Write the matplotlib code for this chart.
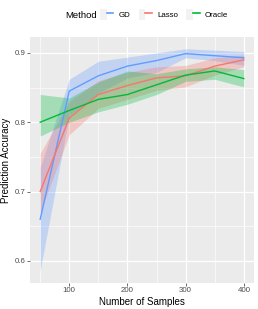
import matplotlib
matplotlib.use('Agg')
import matplotlib.pyplot as plt
from matplotlib.patches import Patch
from matplotlib.lines import Line2D
from matplotlib.legend_handler import HandlerTuple

plt.rcParams['font.family'] = ['Liberation Sans', 'DejaVu Sans']

# data
samples = [50, 100, 150, 200, 250, 300, 350, 400]

gd_mean = [0.660, 0.845, 0.867, 0.881, 0.889, 0.899, 0.896, 0.893]
gd_low = [0.586, 0.810, 0.842, 0.864, 0.872, 0.893, 0.889, 0.882]
gd_high = [0.735, 0.862, 0.888, 0.894, 0.900, 0.906, 0.904, 0.902]

lasso_mean = [0.700, 0.806, 0.840, 0.853, 0.864, 0.867, 0.881, 0.890]
lasso_low = [0.670, 0.782, 0.820, 0.833, 0.846, 0.851, 0.868, 0.880]
lasso_high = [0.755, 0.830, 0.860, 0.872, 0.880, 0.882, 0.893, 0.897]

oracle_mean = [0.800, 0.817, 0.833, 0.840, 0.854, 0.868, 0.874, 0.863]
oracle_low = [0.780, 0.800, 0.815, 0.826, 0.840, 0.859, 0.862, 0.851]
oracle_high = [0.840, 0.835, 0.858, 0.874, 0.870, 0.877, 0.880, 0.876]

methods = ['GD', 'Lasso', 'Oracle']
colors = ['#619CFF', '#F8766D', '#00BA38']
means = [gd_mean, lasso_mean, oracle_mean]
lows = [gd_low, lasso_low, oracle_low]
highs = [gd_high, lasso_high, oracle_high]

fig = plt.figure(figsize=(2.58, 3.09), dpi=100)
ax = fig.add_axes([30 / 258, 26 / 309, 224 / 258, 246 / 309])
ax.set_facecolor('#EBEBEB')

for c, lo, hi in zip(colors, lows, highs):
    ax.fill_between(samples, lo, hi, color=c, alpha=0.3, linewidth=0)
for c, mu in zip(colors, means):
    ax.plot(samples, mu, color=c, linewidth=1.0)

ax.set_xlim(32.5, 417.5)
ax.set_ylim(0.568, 0.923)
ax.set_xticks([100, 200, 300, 400])
ax.set_xticks([50, 150, 250, 350], minor=True)
ax.set_yticks([0.6, 0.7, 0.8, 0.9])
ax.set_yticks([0.65, 0.75, 0.85], minor=True)
ax.set_yticklabels(['0.6', '0.7', '0.8', '0.9'])
ax.grid(which='major', color='white', linewidth=0.9)
ax.grid(which='minor', color='white', linewidth=0.45)
ax.set_axisbelow(True)
for s in ax.spines.values():
    s.set_visible(False)
ax.tick_params(which='major', length=2.0, width=0.5, color='#333333',
               labelsize=5.7, labelcolor='#4D4D4D', pad=1.2)
ax.tick_params(which='minor', length=0)

ax.set_xlabel('Number of Samples', fontsize=7, labelpad=1.5)
ax.set_ylabel('Prediction Accuracy', fontsize=7, labelpad=2.5)

# legend on top
fig.text(65 / 258, 1 - 15 / 309, 'Method', fontsize=6.8, va='center', ha='left')
handles = [(Patch(facecolor='#F2F2F2', edgecolor='none'),
            Line2D([], [], color=c, linewidth=1.2)) for c in colors]
fig.legend(handles, methods, handler_map={tuple: HandlerTuple(ndivide=None, pad=0)},
           loc='center left', bbox_to_anchor=(100 / 258, 1 - 14.5 / 309),
           ncol=3, frameon=False, fontsize=5.7, handlelength=1.7, handleheight=1.9,
           columnspacing=1.05, handletextpad=0.65, borderpad=0, borderaxespad=0)

fig.savefig('out.png', dpi=100)
